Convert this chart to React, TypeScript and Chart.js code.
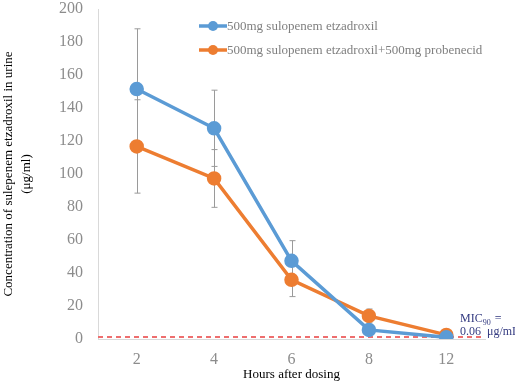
import React, { useEffect, useRef } from "react";
import { Chart, registerables } from "chart.js";

Chart.register(...registerables);

const hours = ["2", "4", "6", "8", "12"];
const seriesA = [151.5, 127.7, 47.4, 5.5, 1.0];
const seriesB = [116.7, 97.3, 35.9, 14.0, 2.5];
const errA = [36.5, 23.1, 12.2, 1.0, 0.4];
const errB = [28.3, 17.5, 10.2, 4.2, 0.5];
const yTicks = [0, 20, 40, 60, 80, 100, 120, 140, 160, 180, 200];
const labelA = "500mg sulopenem etzadroxil";
const labelB = "500mg sulopenem etzadroxil+500mg probenecid";
const micValue = 1.2;

const SERIF = "'Liberation Serif', 'Times New Roman', serif";
const BLUE = "#5b9bd5";
const ORANGE = "#ed7d31";

const overlayPlugin = {
  id: "overlay",
  beforeDatasetsDraw(chart: any) {
    const { ctx, chartArea, scales } = chart;
    const x = scales.x;
    const y = scales.y;
    ctx.save();
    const my = y.getPixelForValue(micValue);
    ctx.strokeStyle = "#ee6e6e";
    ctx.lineWidth = 2;
    ctx.setLineDash([5, 4]);
    ctx.beginPath();
    ctx.moveTo(chartArea.left, my);
    ctx.lineTo(chartArea.right, my);
    ctx.stroke();
    ctx.setLineDash([]);
    ctx.strokeStyle = "#9a9a9a";
    ctx.lineWidth = 1;
    const draw = (vals: number[], errs: number[]) => {
      vals.forEach((v, i) => {
        const px = Math.round(x.getPixelForValue(i)) + 0.5;
        const top = y.getPixelForValue(v + errs[i]);
        const bot = y.getPixelForValue(Math.max(0, v - errs[i]));
        ctx.beginPath();
        ctx.moveTo(px, top);
        ctx.lineTo(px, bot);
        ctx.moveTo(px - 3, top);
        ctx.lineTo(px + 3, top);
        ctx.moveTo(px - 3, bot);
        ctx.lineTo(px + 3, bot);
        ctx.stroke();
      });
    };
    draw(seriesA, errA);
    draw(seriesB, errB);
    ctx.restore();
  },
  afterDraw(chart: any) {
    const { ctx, chartArea } = chart;
    ctx.save();
    ctx.fillStyle = "#000";
    ctx.font = `13px ${SERIF}`;
    ctx.textAlign = "center";
    ctx.textBaseline = "middle";
    const cy = (chartArea.top + chartArea.bottom) / 2;
    ctx.save();
    ctx.translate(9, cy);
    ctx.rotate(-Math.PI / 2);
    ctx.fillText("Concentration of sulepenem etzadroxil in urine", 0, 0);
    ctx.restore();
    ctx.save();
    ctx.translate(27, cy);
    ctx.rotate(-Math.PI / 2);
    ctx.fillText("(μg/ml)", 0, 0);
    ctx.restore();
    ctx.fillText("Hours after dosing", (chartArea.left + chartArea.right) / 2, 375);
    const items = [
      { c: BLUE, t: labelA, y: 26 },
      { c: ORANGE, t: labelB, y: 50 },
    ];
    ctx.textAlign = "left";
    items.forEach((it) => {
      ctx.strokeStyle = it.c;
      ctx.lineWidth = 3.5;
      ctx.beginPath();
      ctx.moveTo(199, it.y);
      ctx.lineTo(227, it.y);
      ctx.stroke();
      ctx.fillStyle = it.c;
      ctx.beginPath();
      ctx.arc(213, it.y, 5, 0, Math.PI * 2);
      ctx.fill();
      ctx.fillStyle = "#7f7f7f";
      ctx.font = `13px ${SERIF}`;
      ctx.fillText(it.t, 227, it.y + 1);
    });
    ctx.fillStyle = "#333a80";
    ctx.font = `12px ${SERIF}`;
    ctx.textBaseline = "alphabetic";
    ctx.fillText("MIC", 460, 322);
    const w = ctx.measureText("MIC").width;
    ctx.font = `8px ${SERIF}`;
    ctx.fillText("90", 460 + w, 325);
    const w2 = ctx.measureText("90").width;
    ctx.font = `12px ${SERIF}`;
    ctx.fillText(" =", 460 + w + w2 + 1, 322);
    ctx.fillText("0.06  μg/mL", 460, 335);
    ctx.restore();
  },
};

export default function App() {
  const ref = useRef<HTMLCanvasElement | null>(null);
  useEffect(() => {
    document.body.style.margin = "0";
    const chart = new Chart(ref.current as HTMLCanvasElement, {
      type: "line",
      data: {
        labels: hours,
        datasets: [
          {
            label: labelA,
            data: seriesA,
            borderColor: BLUE,
            backgroundColor: BLUE,
            pointBackgroundColor: BLUE,
            pointBorderColor: BLUE,
            borderWidth: 3.5,
            pointRadius: 5.5,
            tension: 0,
          },
          {
            label: labelB,
            data: seriesB,
            borderColor: ORANGE,
            backgroundColor: ORANGE,
            pointBackgroundColor: ORANGE,
            pointBorderColor: ORANGE,
            borderWidth: 3.5,
            pointRadius: 5.5,
            tension: 0,
          },
        ],
      },
      options: {
        animation: false,
        responsive: true,
        maintainAspectRatio: false,
        layout: { padding: { left: 0, right: 30, top: 8, bottom: 0 } },
        plugins: {
          legend: { display: false },
          tooltip: { enabled: false },
        },
        scales: {
          x: {
            type: "category",
            offset: true,
            grid: { display: false, drawTicks: false },
            border: { display: true, color: "#d9d9d9", width: 1 },
            ticks: {
              color: "#8c8c8c",
              font: { family: SERIF, size: 16 },
              padding: 11,
            },
            afterFit(scale: any) {
              scale.height = 43;
              scale.paddingLeft = 0;
              scale.paddingRight = 0;
              scale.paddingTop = 0;
              scale.paddingBottom = 0;
            },
          },
          y: {
            min: 0,
            max: 200,
            afterBuildTicks(scale: any) {
              scale.ticks = yTicks.map((v) => ({ value: v }));
            },
            grid: { display: false, drawTicks: false },
            border: { display: true, color: "#d9d9d9", width: 1 },
            ticks: {
              color: "#8c8c8c",
              font: { family: SERIF, size: 16 },
              padding: 15,
            },
            afterFit(scale: any) {
              scale.width = 98;
              scale.paddingTop = 0;
              scale.paddingBottom = 0;
            },
          },
        },
      },
      plugins: [overlayPlugin],
    } as any);
    return () => chart.destroy();
  }, []);
  return (
    <div style={{ position: "fixed", left: 0, top: 0, width: 515, height: 382 }}>
      <canvas ref={ref} />
    </div>
  );
}
